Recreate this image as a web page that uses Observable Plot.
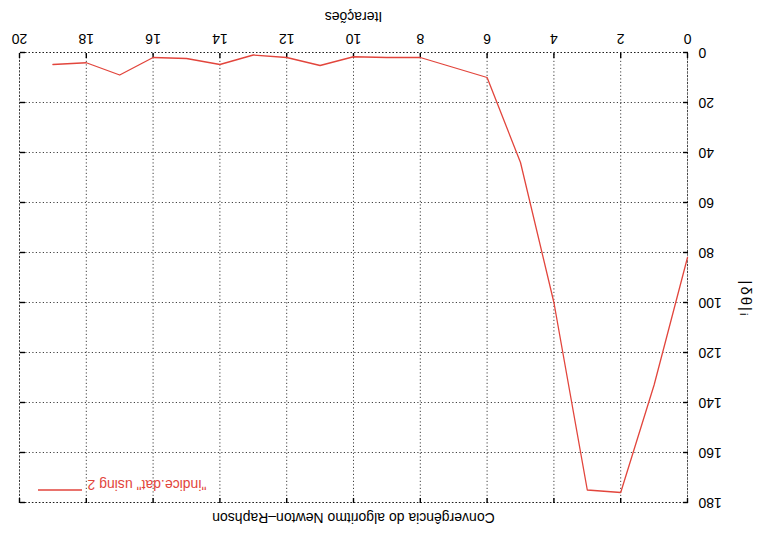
<!DOCTYPE html>
<html>
<head>
<meta charset="utf-8">
<script src="https://cdn.jsdelivr.net/npm/d3@7"></script>
<script src="https://cdn.jsdelivr.net/npm/@observablehq/plot@0.6"></script>
<style>
  html, body { margin: 0; padding: 0; background: #fff; overflow: hidden; }
  #wrap { width: 768px; height: 539px; transform: rotate(180deg); transform-origin: 50% 50%; }
</style>
</head>
<body>
<div id="wrap"></div>
<script>
const iteracoes = [0, 1, 2, 3, 4, 5, 6, 7, 8, 9, 10, 11, 12, 13, 14, 15, 16, 17, 18, 19];
const delta = [82, 133, 176, 175, 100, 44, 10, 6, 2, 2, 1.7, 5.2, 2, 1, 4.8, 2.4, 2, 9, 4.1, 4.8];
const xTicks = [0, 2, 4, 6, 8, 10, 12, 14, 16, 18, 20];
const yTicks = [0, 20, 40, 60, 80, 100, 120, 140, 160, 180];
const titulo = "Convergência do algoritmo Newton–Raphson";
const xLabel = "Iterações";
const yLabel = "|δθ|ᵢ";
const legenda = "\"indice.dat\" using 2";

const W = 768, H = 539, mL = 80, mR = 20, mT = 36, mB = 53;
const frameW = W - mL - mR, frameH = H - mT - mB;
const tickLen = 5;

const data = iteracoes.map((i, k) => ({i, v: delta[k]}));
const red = "#e2453c";
const gridStyle = {stroke: "#000", strokeOpacity: 0.75, strokeDasharray: "1.2,2.3", strokeWidth: 1};
const tickStyle = {stroke: "#000", strokeWidth: 1.4};

const chart = Plot.plot({
  width: W,
  height: H,
  marginLeft: mL,
  marginRight: mR,
  marginTop: mT,
  marginBottom: mB,
  x: {domain: [0, 20]},
  y: {domain: [0, 180]},
  style: {fontFamily: "'Liberation Sans', Arial, sans-serif", fontSize: "14px", background: "#fff", color: "#000"},
  marks: [
    Plot.gridX(xTicks, gridStyle),
    Plot.gridY(yTicks, gridStyle),
    Plot.frame(gridStyle),
    Plot.axisX(xTicks, {anchor: "bottom", tickSize: 0, tickPadding: 9, label: null, tickFormat: d => d}),
    Plot.axisY(yTicks, {anchor: "left", tickSize: 0, tickPadding: 11, label: null, tickFormat: d => d}),
    // inward tick marks on all four sides
    Plot.tickX(xTicks, {x: d => d, insetTop: frameH - tickLen, ...tickStyle}),
    Plot.tickX(xTicks, {x: d => d, insetBottom: frameH - tickLen, ...tickStyle}),
    Plot.tickY(yTicks, {y: d => d, insetRight: frameW - tickLen, ...tickStyle}),
    Plot.tickY(yTicks, {y: d => d, insetLeft: frameW - tickLen, ...tickStyle}),
    Plot.line(data, {x: "i", y: "v", stroke: red, strokeWidth: 1.3}),
    Plot.text([titulo], {text: d => d, frameAnchor: "top", dy: -20}),
    Plot.text([xLabel], {text: d => d, frameAnchor: "bottom", dy: 41}),
    Plot.text([yLabel], {text: d => d, frameAnchor: "left", dx: -58, dy: -3, rotate: -90, fontSize: 15}),
    Plot.text([legenda], {text: d => d, frameAnchor: "top-right", dx: -68, dy: 13, textAnchor: "end", fill: red})
  ]
});

// legend sample line
const sx = chart.scale("x");
const sy = chart.scale("y");
const frameRight = Math.max(...sx.range);
const frameTop = Math.min(...sy.range);
d3.select(chart).append("line")
  .attr("x1", frameRight - 62).attr("x2", frameRight - 18)
  .attr("y1", frameTop + 13).attr("y2", frameTop + 13)
  .attr("stroke", red).attr("stroke-width", 1.3);
d3.select(chart).selectAll("text").filter(function() { return this.textContent === yLabel; })
  .attr("letter-spacing", "2px");

document.getElementById("wrap").appendChild(chart);
</script>
</body>
</html>
